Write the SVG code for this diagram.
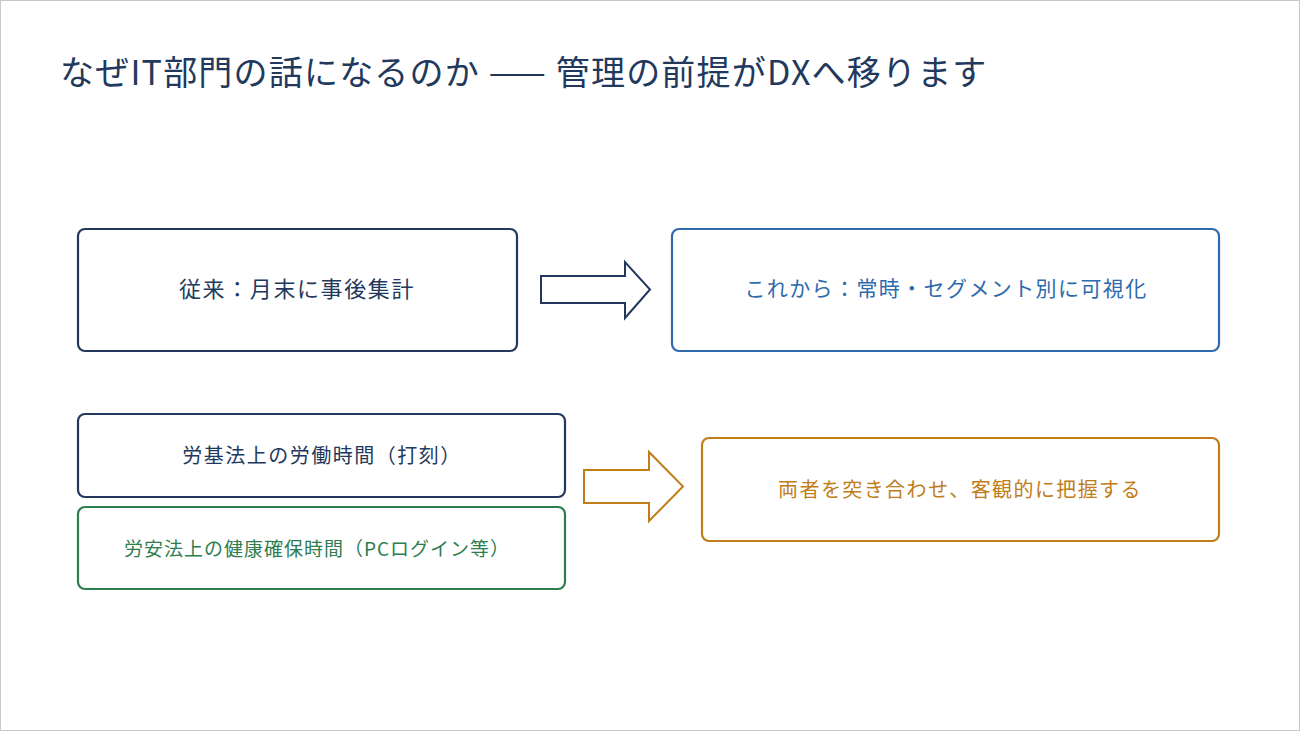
<svg xmlns="http://www.w3.org/2000/svg" width="1300" height="731" viewBox="0 0 1300 731">
<style>
text{font-family:"Noto Sans CJK JP","Noto Sans",sans-serif;}
.box{fill:#fff;stroke-width:2.2;}
.lbl{text-anchor:middle;dominant-baseline:central;}
</style>
<rect x="0.5" y="0.5" width="1299" height="730" fill="#fff" stroke="#c8c8c8" stroke-width="1"/>
<text x="60" y="85" font-size="34" letter-spacing="1.2" fill="#22395d">なぜIT部門の話になるのか —— 管理の前提がDXへ移ります</text>
<g id="connectors">
<path d="M541,276 H625 V262 L650,289.5 L625,318 V303 H541 Z" fill="#fff" stroke="#22395d" stroke-width="2"/>
<path d="M584,470 H649 V452 L683,486.5 L649,521 V503 H584 Z" fill="#fff" stroke="#c17d1a" stroke-width="2"/>
</g>
<g id="n1"><rect class="box" x="78" y="229" width="439" height="122" rx="7" stroke="#22395d"/><text class="lbl" x="297" y="287" font-size="22" letter-spacing="1.6" fill="#22395d">従来：月末に事後集計</text></g>
<g id="n2"><rect class="box" x="672" y="229" width="547" height="122" rx="7" stroke="#2e6aad"/><text class="lbl" x="946" y="287" font-size="21" letter-spacing="1.4" fill="#2e6aad">これから：常時・セグメント別に可視化</text></g>
<g id="n3"><rect class="box" x="78" y="414" width="487" height="83" rx="7" stroke="#22395d"/><text class="lbl" x="322" y="454" font-size="20" letter-spacing="1.5" fill="#22395d">労基法上の労働時間（打刻）</text></g>
<g id="n4"><rect class="box" x="78" y="507" width="487" height="82" rx="7" stroke="#2e7d4f"/><text class="lbl" x="317" y="547" font-size="19" letter-spacing="1" fill="#2e7d4f">労安法上の健康確保時間（PCログイン等）</text></g>
<g id="n5"><rect class="box" x="702" y="438" width="517" height="103" rx="7" stroke="#c17d1a"/><text class="lbl" x="960" y="488" font-size="20" letter-spacing="1.4" fill="#c17d1a">両者を突き合わせ、客観的に把握する</text></g>
</svg>
